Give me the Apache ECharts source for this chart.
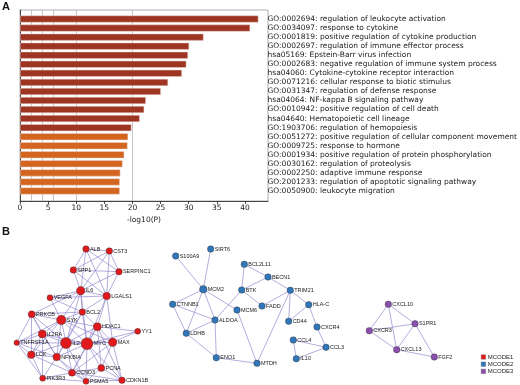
<!DOCTYPE html>
<html><head><meta charset="utf-8">
<script src="https://cdn.jsdelivr.net/npm/echarts@6/dist/echarts.min.js"></script>
<style>html,body{margin:0;padding:0;background:#fff}#c{width:520px;height:385px}</style>
</head><body><div id="c"></div>
<script>
// ---------- Panel A data ----------
const terms = [
 "GO:0002694: regulation of leukocyte activation",
 "GO:0034097: response to cytokine",
 "GO:0001819: positive regulation of cytokine production",
 "GO:0002697: regulation of immune effector process",
 "hsa05169: Epstein-Barr virus infection",
 "GO:0002683: negative regulation of immune system process",
 "hsa04060: Cytokine-cytokine receptor interaction",
 "GO:0071216: cellular response to biotic stimulus",
 "GO:0031347: regulation of defense response",
 "hsa04064: NF-kappa B signaling pathway",
 "GO:0010942: positive regulation of cell death",
 "hsa04640: Hematopoietic cell lineage",
 "GO:1903706: regulation of hemopoiesis",
 "GO:0051272: positive regulation of cellular component movement",
 "GO:0009725: response to hormone",
 "GO:0001934: positive regulation of protein phosphorylation",
 "GO:0030162: regulation of proteolysis",
 "GO:0002250: adaptive immune response",
 "GO:2001233: regulation of apoptotic signaling pathway",
 "GO:0050900: leukocyte migration"
];
const logP = [43.0, 41.5, 33.1, 30.5, 30.3, 30.0, 29.2, 26.7, 25.4, 22.7, 22.4, 21.6, 20.1, 19.5, 19.4, 18.8, 18.5, 18.1, 18.0, 18.0];
const gridValues = [2, 4, 6, 10, 20];
const xAxisName = "-log10(P)";

// ---------- Panel B data ----------
const mcode1Nodes = [
 ["ALB",86,249,6.5],["CST3",109.3,251,6.5],["SPP1",73.3,270,6.5],["SERPINC1",119,271.7,6.5],
 ["IL6",80.7,290.7,8.5],["VEGFA",50,297.7,6],["LGALS1",106.7,296,7.5],["PRKCB",31.7,314.3,7],
 ["BCL2",82.3,312,6.5],["SYK",61.3,320,9.5],["HDAC1",97.3,326.7,8],["YY1",137.7,331.3,6],
 ["IL2RA",42.3,334,8],["TNFRSF1A",16.7,342.7,5.5],["IL2",66,343,11],["MYC",87,343.7,12],
 ["MAX",112.7,342.3,8.5],["LCK",31.3,354.7,7.5],["NFKBIA",56.7,357,7.5],["PCNA",101.3,368,7],
 ["CCND3",72,372.7,7],["PIK3R3",42.7,378.3,6],["PSMA5",86,381.3,6],["CDKN1B",122,380.3,6.5]
];
const mcode1Edges = [
 ["ALB","CST3"],["ALB","SPP1"],["ALB","IL6"],["ALB","LGALS1"],["ALB","SERPINC1"],
 ["CST3","SPP1"],["CST3","SERPINC1"],["CST3","LGALS1"],["CST3","IL6"],
 ["SPP1","SERPINC1"],["SPP1","IL6"],["SPP1","LGALS1"],["SERPINC1","IL6"],["SERPINC1","LGALS1"],
 ["IL6","VEGFA"],["IL6","LGALS1"],["IL6","BCL2"],["IL6","SYK"],["IL6","PRKCB"],["IL6","MYC"],["IL6","IL2"],
 ["VEGFA","LGALS1"],["VEGFA","SYK"],["VEGFA","BCL2"],["LGALS1","BCL2"],["LGALS1","HDAC1"],["LGALS1","MAX"],["LGALS1","MYC"],
 ["PRKCB","SYK"],["PRKCB","IL2RA"],["PRKCB","TNFRSF1A"],["PRKCB","LCK"],["PRKCB","IL2"],["PRKCB","BCL2"],["PRKCB","NFKBIA"],
 ["BCL2","SYK"],["BCL2","MYC"],["BCL2","IL2"],["BCL2","HDAC1"],["BCL2","NFKBIA"],
 ["SYK","IL2RA"],["SYK","IL2"],["SYK","MYC"],["SYK","LCK"],["SYK","HDAC1"],["SYK","NFKBIA"],["SYK","TNFRSF1A"],["SYK","MAX"],
 ["HDAC1","MYC"],["HDAC1","MAX"],["HDAC1","YY1"],["HDAC1","IL2"],["HDAC1","PCNA"],["HDAC1","CCND3"],["HDAC1","CDKN1B"],
 ["YY1","MYC"],["YY1","MAX"],
 ["IL2RA","IL2"],["IL2RA","TNFRSF1A"],["IL2RA","LCK"],["IL2RA","NFKBIA"],["IL2RA","MYC"],["IL2RA","PIK3R3"],
 ["TNFRSF1A","LCK"],["TNFRSF1A","IL2"],["TNFRSF1A","NFKBIA"],["TNFRSF1A","PIK3R3"],
 ["IL2","MYC"],["IL2","LCK"],["IL2","NFKBIA"],["IL2","CCND3"],["IL2","MAX"],["IL2","PSMA5"],
 ["MYC","MAX"],["MYC","NFKBIA"],["MYC","CCND3"],["MYC","PCNA"],["MYC","PSMA5"],["MYC","CDKN1B"],
 ["MAX","PCNA"],["MAX","CDKN1B"],["MAX","CCND3"],
 ["LCK","NFKBIA"],["LCK","PIK3R3"],["LCK","CCND3"],
 ["NFKBIA","CCND3"],["NFKBIA","PIK3R3"],["NFKBIA","PSMA5"],
 ["PCNA","CCND3"],["PCNA","CDKN1B"],["PCNA","PSMA5"],
 ["CCND3","PSMA5"],["CCND3","CDKN1B"],["CCND3","PIK3R3"],["PSMA5","CDKN1B"],["PIK3R3","PSMA5"]
];
const mcode2Nodes = [
 ["S100A9",175.7,256,6.5],["SIRT6",210.7,249,6.5],["BCL2L11",244.3,264.3,6.5],["BECN1",268,277,6.5],
 ["MCM2",203.3,289.3,7.5],["BTK",241.7,290,6.5],["TRIM21",290.3,290.3,6.5],["CTNNB1",172.7,304.3,6.5],
 ["MCM6",237,310,6.5],["FADD",262,306,6.5],["HLA-C",308.7,304.7,6.5],["ALDOA",215,320,6.5],
 ["CD44",288.7,321.3,6.5],["CXCR4",317,327,6.5],["LDHB",186.3,333.3,6.5],["CCL4",293.3,340,6.5],
 ["CCL3",326,347.3,6.5],["ENO1",216.3,357.7,6.5],["IL10",296.3,358.7,6.5],["MTDH",257,363.3,6.5]
];
const mcode2Edges = [
 ["S100A9","MCM2"],["SIRT6","MCM2"],["MCM2","CTNNB1"],["MCM2","ALDOA"],["MCM2","LDHB"],["MCM2","MCM6"],
 ["CTNNB1","LDHB"],["CTNNB1","ALDOA"],["LDHB","ALDOA"],["LDHB","ENO1"],["ALDOA","ENO1"],["ALDOA","BTK"],
 ["ENO1","MTDH"],["MCM6","MTDH"],["BCL2L11","BTK"],["BCL2L11","BECN1"],["BECN1","BTK"],["BECN1","TRIM21"],
 ["BTK","FADD"],["FADD","TRIM21"],["TRIM21","CD44"],["TRIM21","HLA-C"],["TRIM21","MTDH"],["HLA-C","CD44"],
 ["HLA-C","CXCR4"],["CXCR4","CCL3"],["CCL4","CCL3"],["CCL4","IL10"],["IL10","CCL3"]
];
const mcode3Nodes = [
 ["CXCL10",388.3,304.3,6.5],["S1PR1",415,323.7,6.5],["CXCR3",369.3,330.7,6.5],["CXCL13",396.7,349.7,6.5],["FGF2",434.3,357,6.5]
];
const mcode3Edges = [
 ["CXCL10","CXCR3"],["CXCL10","S1PR1"],["CXCL10","CXCL13"],["CXCR3","S1PR1"],["CXCR3","CXCL13"],
 ["S1PR1","CXCL13"],["S1PR1","FGF2"],["CXCL13","FGF2"]
];
const clusterNames = ["MCODE1","MCODE2","MCODE3"];

// ---------- build ----------
const DARK = "#9e3522", ORANGE = "#d4651f";
const clusterColors = ["#e01a1c","#2f77b8","#8a4fae"];
const edgeStyle = {color:"#9489cf", width:0.7, opacity:1, curveness:0};
function graphSeries(name, nodes, edges, color){
  return {
    type:"graph", name, coordinateSystem:"cartesian2d", xAxisIndex:2, yAxisIndex:2,
    symbol:"circle",
    data: nodes.map(n=>({name:n[0], value:[n[1],n[2]], symbolSize:n[3]})),
    links: edges.map(e=>({source:e[0], target:e[1]})),
    itemStyle:{color, borderColor:"#333", borderWidth:0.4},
    lineStyle: edgeStyle,
    label:{show:true, position:"right", distance:0.5, formatter:"{b}", fontSize:5.5,
           fontFamily:"Liberation Sans", color:"#222"},
    emphasis:{disabled:true}, silent:true, animation:false
  };
}

const chart = echarts.init(document.getElementById("c"), null, {renderer:"canvas"});
chart.setOption({
  animation:false,
  textStyle:{fontFamily:"DejaVu Sans"},
  graphic:[
    {type:"text", left:2, top:1, style:{text:"A", font:"bold 11px Liberation Sans", fill:"#111"}},
    {type:"text", left:2, top:226, style:{text:"B", font:"bold 11px Liberation Sans", fill:"#111"}}
  ],
  legend:{
    data:clusterNames.map((n,i)=>({name:n, itemStyle:{color:clusterColors[i], borderColor:"#555", borderWidth:0.3}})),
    orient:"vertical", left:481, top:354, itemWidth:4.5, itemHeight:4.5,
    itemGap:1.2, icon:"rect", padding:0, selectedMode:false,
    textStyle:{fontSize:6, fontFamily:"Liberation Sans", color:"#222", padding:[0,0,0,-3]}
  },
  grid:[
    {left:20, top:10, width:248, height:191, show:true, borderColor:"#999", borderWidth:0.8, containLabel:false},
    {left:20, top:14.5, width:248, height:181, containLabel:false},
    {left:0, top:220, width:520, height:165, containLabel:false}
  ],
  xAxis:[
    {type:"value", gridIndex:0, min:0, max:44.1, interval:5,
     axisLine:{show:true, lineStyle:{color:"#222", width:0.8}},
     axisTick:{show:true, length:3, lineStyle:{color:"#222", width:0.8}},
     axisLabel:{fontSize:7.5, color:"#222", margin:3, showMaxLabel:false},
     splitLine:{show:false},
     name:xAxisName, nameLocation:"middle", nameGap:15,
     nameTextStyle:{fontSize:7.5, color:"#222"}},
    {type:"value", gridIndex:1, min:0, max:44.1, show:false},
    {type:"value", gridIndex:2, min:0, max:520, show:false}
  ],
  yAxis:[
    {type:"value", gridIndex:0, min:0, max:1, show:true,
     axisLine:{show:true, lineStyle:{color:"#222", width:0.8}},
     axisTick:{show:false}, axisLabel:{show:false}, splitLine:{show:false}},
    {type:"category", gridIndex:1, data:terms, inverse:true, position:"right",
     axisLine:{show:false}, axisTick:{show:false},
     axisLabel:{interval:0, fontSize:7.5, color:"#222", margin:3, align:"left"}},
    {type:"value", gridIndex:2, min:220, max:385, inverse:true, show:false}
  ],
  series:[
    {type:"scatter", xAxisIndex:0, yAxisIndex:0, data:[[0,0]], symbolSize:0, silent:true, z:0,
     markLine:{silent:true, symbol:"none", label:{show:false}, z:0,
       lineStyle:{color:"#b8b8b8", type:"solid", width:0.8},
       data: gridValues.map(v=>({xAxis:v}))}},
    {type:"bar", xAxisIndex:1, yAxisIndex:1, data: logP.map((v,i)=>({value:v, itemStyle:{color: i<13?DARK:ORANGE}})),
     barWidth:7, z:10, itemStyle:{borderColor:"#e6d6d0", borderWidth:0.5}, silent:true},
    graphSeries(clusterNames[0], mcode1Nodes, mcode1Edges, clusterColors[0]),
    graphSeries(clusterNames[1], mcode2Nodes, mcode2Edges, clusterColors[1]),
    graphSeries(clusterNames[2], mcode3Nodes, mcode3Edges, clusterColors[2])
  ]
});
</script></body></html>
